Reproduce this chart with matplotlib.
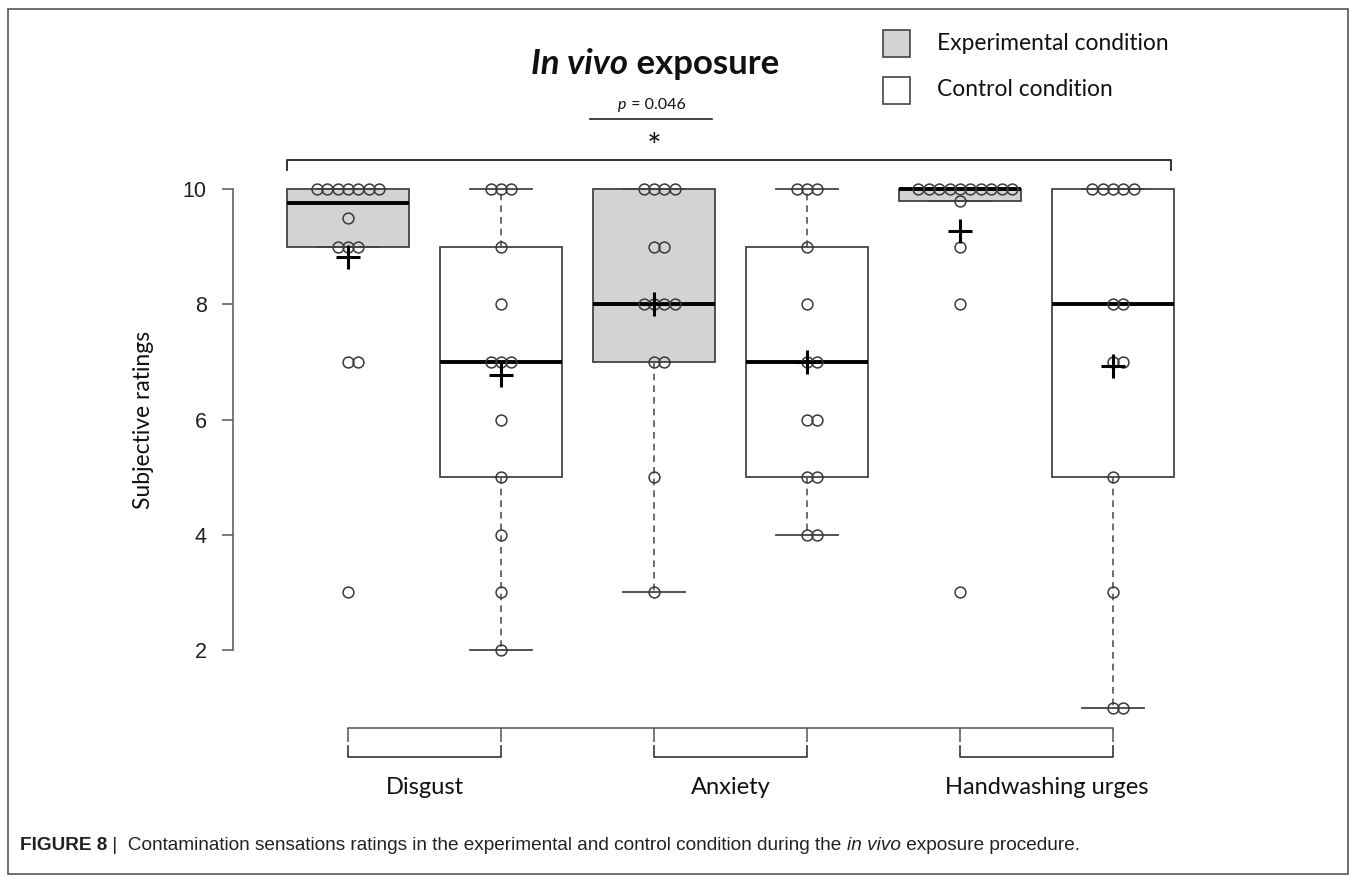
import numpy as np
import matplotlib
matplotlib.use("Agg")
import matplotlib.pyplot as plt
from matplotlib.patches import Rectangle
from matplotlib.lines import Line2D
from matplotlib.transforms import blended_transform_factory

# ---------------- data ----------------
categories = ["Disgust", "Anxiety", "Handwashing urges"]
conditions = ["Experimental condition", "Control condition"]
disgust_exp = [10, 10, 10, 10, 10, 10, 10, 9.5, 9, 9, 9, 7, 7, 3]
disgust_ctrl = [10, 10, 10, 9, 8, 7, 7, 7, 6, 5, 4, 3, 2]
anxiety_exp = [10, 10, 10, 10, 9, 9, 8, 8, 8, 8, 7, 7, 5, 3]
anxiety_ctrl = [10, 10, 10, 9, 8, 7, 7, 6, 6, 5, 5, 4, 4]
hand_exp = [10, 10, 10, 10, 10, 10, 10, 10, 10, 10, 9.8, 9, 8, 3]
hand_ctrl = [10, 10, 10, 10, 10, 8, 8, 7, 7, 5, 3, 1, 1]
groups = [disgust_exp, disgust_ctrl, anxiety_exp, anxiety_ctrl, hand_exp, hand_ctrl]
group_is_exp = [True, False, True, False, True, False]
yticks = [2, 4, 6, 8, 10]
title_parts = ["In vivo", " exposure"]
p_text = "0.046"
signif = "*"
ylabel = "Subjective ratings"
caption_bold = "FIGURE 8"
caption_parts = [" |  Contamination sensations ratings in the experimental and control condition during the ",
                 "in vivo", " exposure procedure."]

W, H = 1354, 881
fig = plt.figure(figsize=(W / 100, H / 100), dpi=100)

def fx(px):
    return px / W

def fy(py):
    return 1 - py / H

# axes placement (pixel based)
ax_left, ax_right, ax_top, ax_bot = 233, 1228, 168.3, 728.4
ax = fig.add_axes([fx(ax_left), fy(ax_bot), fx(ax_right - ax_left), (ax_bot - ax_top) / H])
ax.set_xlim(0.2484, 6.752)
ax.set_ylim(0.64, 10.36)

# ---------------- box statistics (R / Tukey hinges) ----------------
def tukey_stats(vals):
    v = np.sort(np.asarray(vals, dtype=float))
    n = len(v)
    n4 = np.floor((n + 3) / 2) / 2
    d = np.array([1, n4, (n + 1) / 2, n + 1 - n4, n]) - 1
    f = 0.5 * (v[np.floor(d).astype(int)] + v[np.ceil(d).astype(int)])
    q1, med, q3 = f[1], f[2], f[3]
    iqr = q3 - q1
    lo = v[v >= q1 - 1.5 * iqr].min()
    hi = v[v <= q3 + 1.5 * iqr].max()
    return dict(med=med, q1=q1, q3=q3, whislo=lo, whishi=hi, fliers=[])

positions = np.arange(1, len(groups) + 1)
stats = [tukey_stats(g) for g in groups]
box_w = 0.8
res = ax.bxp(stats, positions=positions, widths=box_w, showfliers=False,
             patch_artist=True, capwidths=box_w / 2,
             boxprops=dict(edgecolor="#444444", linewidth=1.3),
             whiskerprops=dict(color="#555555", linewidth=1.2, linestyle=(0, (4, 3))),
             capprops=dict(color="#444444", linewidth=1.3),
             medianprops=dict(color="black", linewidth=2.8, solid_capstyle="butt"))
for patch, is_exp in zip(res["boxes"], group_is_exp):
    patch.set_facecolor("#d3d3d3" if is_exp else "white")
    patch.set_zorder(1)

# ---------------- beeswarm points ----------------
step = 0.068
for pos, g in zip(positions, groups):
    vals, counts = np.unique(g, return_counts=True)
    xs, ys = [], []
    for v, k in zip(vals, counts):
        offs = (np.arange(k) - (k - 1) // 2) * step
        xs.extend(pos + offs)
        ys.extend([v] * k)
    ax.plot(xs, ys, "o", ms=7.8, mfc="none", mec="#3a3a3a", mew=1.1, zorder=4, clip_on=False)
    ax.plot(pos, np.mean(g), marker="+", ms=17, mew=2.2, color="black", zorder=5, clip_on=False)

# ---------------- axes styling ----------------
for s in ["top", "right"]:
    ax.spines[s].set_visible(False)
ax.spines["left"].set_bounds(2, 10)
ax.spines["bottom"].set_bounds(1, 6)
for s in ["left", "bottom"]:
    ax.spines[s].set_color("#555555")
    ax.spines[s].set_linewidth(1.1)
ax.set_yticks(yticks)
ax.set_yticklabels([str(t) for t in yticks], family=["Liberation Sans", "DejaVu Sans"], fontsize=15.5, color="#222222")
ax.tick_params(axis="y", length=8, width=1.1, color="#555555", pad=11)
ax.set_xticks(positions)
ax.set_xticklabels([])
ax.tick_params(axis="x", length=10, width=1.1, color="#555555")
ax.patch.set_alpha(0)

txt_font = ["Lato", "DejaVu Sans"]
fig.text(fx(143), fy(420), ylabel, rotation=90, ha="center", va="center",
         family=txt_font, fontsize=16.5, color="#111111")

# brackets under the x axis
tb = blended_transform_factory(ax.transData, fig.transFigure)
for i, cat in enumerate(categories):
    x0, x1 = positions[2 * i], positions[2 * i + 1]
    ax.add_line(Line2D([x0, x0, x1, x1], [fy(746), fy(757), fy(757), fy(746)],
                       transform=tb, color="#333333", lw=1.2, clip_on=False))
    xc = (x0 + x1) / 2 + (0.07 if i == 2 else 0)
    ax.text(xc, fy(787), cat, transform=tb, ha="center", va="center",
            family=txt_font, fontsize=17, color="#111111")

# top significance bracket
ax.add_line(Line2D([0.6, 0.6, 6.38, 6.38], [fy(170), fy(160), fy(160), fy(170)],
                   transform=tb, color="#222222", lw=1.3, clip_on=False))
ax.add_line(Line2D([2.58, 3.38], [fy(119), fy(119)], transform=tb, color="#222222", lw=1.2, clip_on=False))
ax.text(3.0, fy(148), signif, transform=tb, ha="center", va="center",
        family=txt_font, fontsize=25, color="#111111")

renderer = fig.canvas.get_renderer()

def chain(pieces, x_px, y_px, ha="left"):
    """Place text pieces side by side starting at x_px (pixels)."""
    objs = []
    widths = []
    for s, kw in pieces:
        t = fig.text(0, 0, s, va="center", ha="left", **kw)
        bb = t.get_window_extent(renderer=renderer)
        widths.append(bb.width)
        objs.append(t)
    total = sum(widths)
    start = x_px - total / 2 if ha == "center" else x_px
    cur = start
    for t, w in zip(objs, widths):
        t.set_position((fx(cur), fy(y_px)))
        cur += w
    return objs

# p-value text
chain([("p", dict(family=txt_font, style="italic", fontsize=11.5, color="#111111")),
       (" = " + p_text, dict(family=txt_font, fontsize=11.5, color="#111111"))],
      652, 105, ha="center")

# title
chain([(title_parts[0], dict(family=txt_font, style="italic", weight="bold", fontsize=25, color="#111111")),
       (title_parts[1], dict(family=txt_font, weight="bold", fontsize=25, color="#111111"))],
      655, 64, ha="center")

# legend
fig.patches.append(Rectangle((fx(883), fy(57)), fx(27), 27 / H, transform=fig.transFigure,
                             facecolor="#d3d3d3", edgecolor="#444444", lw=1.2))
fig.patches.append(Rectangle((fx(883), fy(104)), fx(27), 27 / H, transform=fig.transFigure,
                             facecolor="white", edgecolor="#444444", lw=1.2))
fig.text(fx(937), fy(43), conditions[0], va="center", ha="left", family=txt_font, fontsize=16.4, color="#111111")
fig.text(fx(937), fy(89), conditions[1], va="center", ha="left", family=txt_font, fontsize=16.4, color="#111111")

# caption
cap_font = ["Liberation Sans Narrow", "Liberation Sans", "DejaVu Sans"]
chain([(caption_bold, dict(family=cap_font, weight="bold", fontsize=13.7, color="#222222")),
       (caption_parts[0], dict(family=cap_font, fontsize=13.7, color="#222222")),
       (caption_parts[1], dict(family=cap_font, style="italic", fontsize=13.7, color="#222222")),
       (caption_parts[2], dict(family=cap_font, fontsize=13.7, color="#222222"))],
      20, 846)

# outer frame
fig.patches.append(Rectangle((fx(8), fy(874)), fx(1340), (874 - 9) / H, transform=fig.transFigure,
                             facecolor="none", edgecolor="#555555", lw=1.2))

fig.savefig("out.png", dpi=100)
